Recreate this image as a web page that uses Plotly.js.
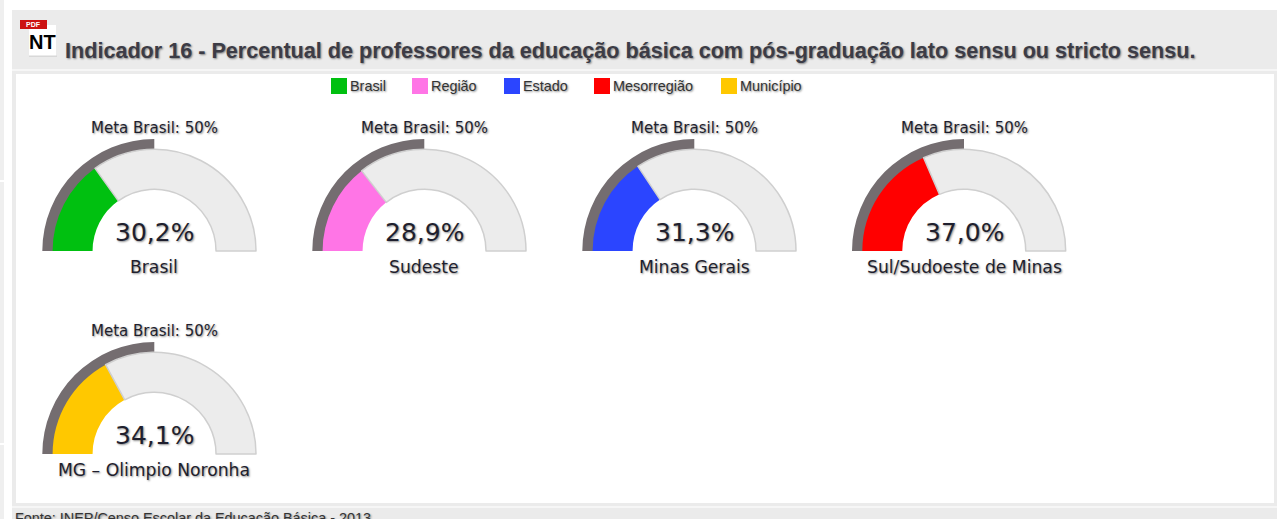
<!DOCTYPE html>
<html><head><meta charset="utf-8">
<script src="https://cdn.plot.ly/plotly-3.0.1.min.js"></script>
<style>html,body{margin:0;padding:0;background:#fff;overflow:hidden;width:1282px;height:519px}#c{width:1282px;height:580px}</style>
</head><body><div id="c"></div>
<script>
const gaugeValues=[30.2,28.9,31.3,37.0,34.1];
const gaugeTexts=['30,2%','28,9%','31,3%','37,0%','34,1%'];
const gaugeNames=['Brasil','Sudeste','Minas Gerais','Sul/Sudoeste de Minas','MG – Olimpio Noronha'];
const gaugeColors=['#00c010','#ff75e6','#2b45ff','#ff0000','#ffc800'];
const metaValue=50;
const metaLabel='Meta Brasil: 50%';
const legendNames=['Brasil','Região','Estado','Mesorregião','Município'];
const legendX=[331,412,504,594,721];
const centersX=[154.3,424.3,694.3,964,154.3];
const centersY=[251,251,251,251,454];
const titleText='Indicador 16 - Percentual de professores da educação básica com pós-graduação lato sensu ou stricto sensu.';
const sourceText='Fonte: INEP/Censo Escolar da Educação Básica - 2013';

const W=1282,H=580;
const px=x=>x/W, py=y=>1-y/H;
const sh='1px 1px 2px rgba(0,0,0,0.45)';
const dom=(cx,cy,r)=>({x:[px(cx-r),px(cx+r)],y:[py(cy+r),py(cy-r)]});
const data=[];
gaugeValues.forEach((v,i)=>{
  data.push({type:'pie',sort:false,direction:'clockwise',rotation:270,hole:0.88,
    values:[metaValue,100-metaValue,100],domain:dom(centersX[i],centersY[i],112),
    textinfo:'none',hoverinfo:'skip',showlegend:false,
    marker:{colors:['#746d70','rgba(0,0,0,0)','rgba(0,0,0,0)'],line:{width:0}}});
  data.push({type:'pie',sort:false,direction:'clockwise',rotation:270,hole:0.607,
    values:[v,100-v,100],domain:dom(centersX[i],centersY[i],101.7),
    textinfo:'none',hoverinfo:'skip',showlegend:false,
    marker:{colors:[gaugeColors[i],'#ececec','rgba(0,0,0,0)'],
      line:{color:['rgba(0,0,0,0)','#cfcfcf','rgba(0,0,0,0)'],width:[0,1.5,0]}}});
});
const rect=(x0,y0,x1,y1,c,extra)=>Object.assign({type:'rect',xref:'paper',yref:'paper',x0:px(x0),x1:px(x1),y0:py(y0),y1:py(y1),fillcolor:c,line:{width:0},layer:'below'},extra||{});
const shapes=[
  rect(0,0,1282,580,'#ffffff'),
  rect(12,10,1277,580,'#ebebeb'),
  rect(16,74,1274,503,'#ffffff'),
  rect(12,69,1277,71,'#f6f6f6'),
  rect(12,506,1277,508,'#f6f6f6'),
  rect(0,0,4,180,'#efefef'),
  rect(0,182,4,443,'#efefef'),
  rect(0,445,4,580,'#efefef'),
  rect(29,25,57,57,'#d8d8d8',{layer:'above'}),
  rect(29,25,56.5,55.5,'#ffffff',{layer:'above'}),
  rect(20,20,47,29,'#cc1111',{layer:'above'})
];
legendNames.forEach((n,i)=>shapes.push(rect(legendX[i],78,legendX[i]+16,94,gaugeColors[i])));
const ann=(x,y,text,size,opts)=>Object.assign({xref:'paper',yref:'paper',x:px(x),y:py(y),text,showarrow:false,xanchor:'center',yanchor:'middle',
  font:{family:'"DejaVu Sans",sans-serif',size,color:'#1f1f2e',shadow:sh}},opts||{});
const lib='"Liberation Sans",Arial,sans-serif';
const annotations=[
  ann(63,50,titleText,21.6,{xanchor:'left',font:{family:lib,size:21.6,color:'#3c3c46',weight:700,shadow:sh}}),
  ann(42.5,42,'NT',20,{font:{family:lib,size:20,color:'#000',weight:700}}),
  ann(33.5,24.5,'PDF',7,{font:{family:lib,size:7,color:'#fff',weight:700}}),
  ann(13,518,sourceText,14.4,{xanchor:'left',font:{family:lib,size:14.4,color:'#333',shadow:sh}})
];
legendNames.forEach((n,i)=>annotations.push(ann(legendX[i]+17,86.5,n,14.4,{xanchor:'left',font:{family:lib,size:14.4,color:'#333',shadow:sh}})));
gaugeValues.forEach((v,i)=>{
  const cx=centersX[i],cy=centersY[i];
  annotations.push(ann(cx,cy-123.5,metaLabel,15));
  annotations.push(ann(cx,cy-19,gaugeTexts[i],25));
  annotations.push(ann(cx,cy+16,gaugeNames[i],17.2));
});
Plotly.newPlot('c',data,{width:W,height:H,margin:{l:0,r:0,t:0,b:0},paper_bgcolor:'#fff',showlegend:false,shapes,annotations},{displayModeBar:false,staticPlot:true});
</script></body></html>
